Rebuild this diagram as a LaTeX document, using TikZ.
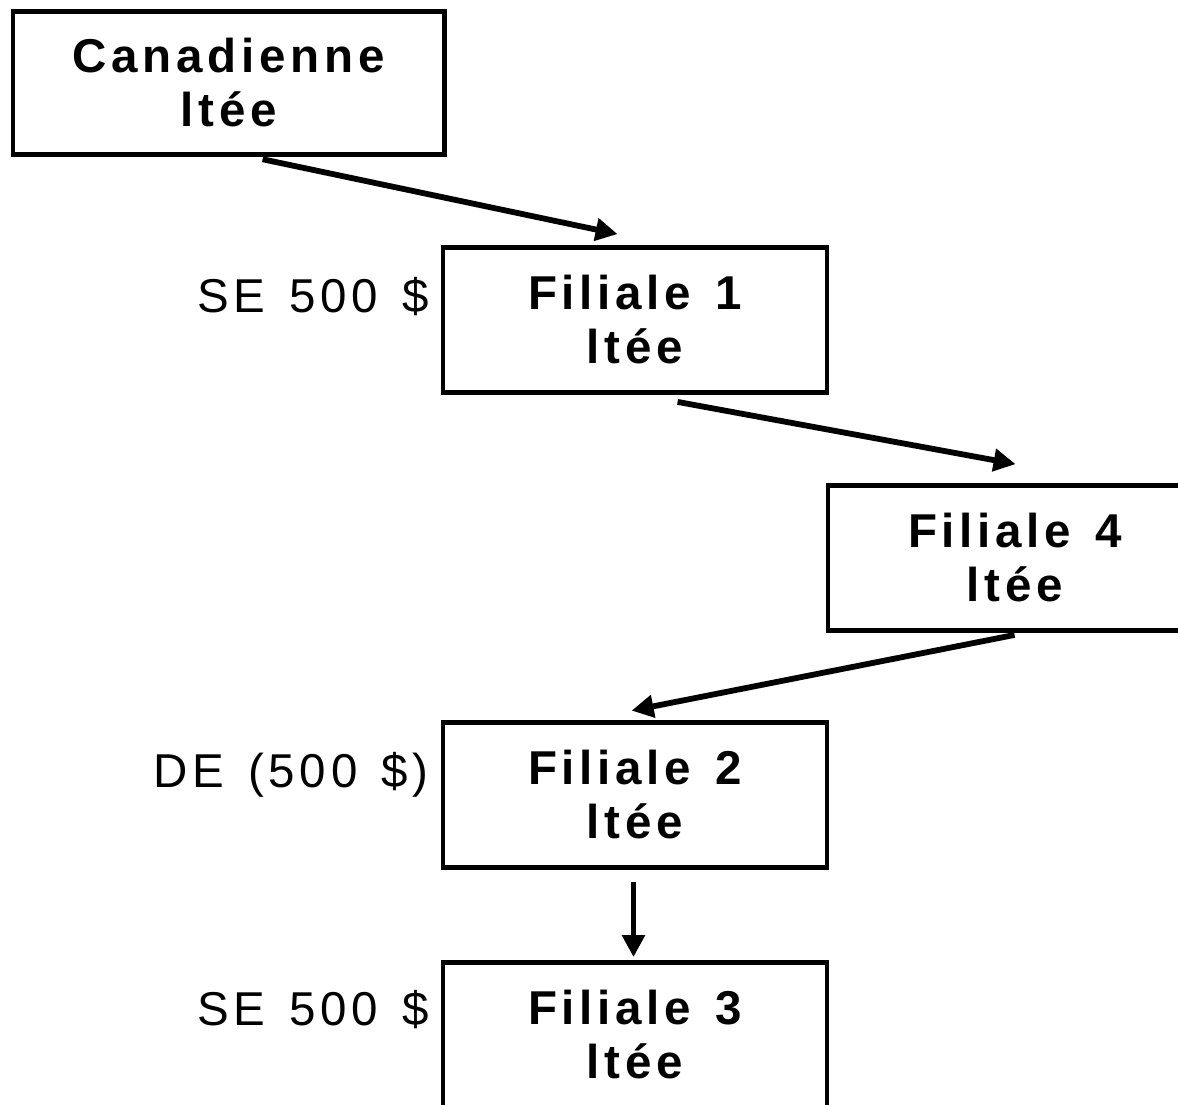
\documentclass[tikz,border=0pt]{standalone}
\usepackage{fontspec}
\usetikzlibrary{arrows.meta}
\newfontfamily\boxfont{Liberation Sans}[LetterSpace=10,WordSpace=1.35]
\tikzset{
  entity/.style={draw=black, line width=4.8pt, rectangle, inner sep=0pt,
    minimum width=384pt, minimum height=145pt, align=center,
    font=\boxfont\bfseries\fontsize{47.5pt}{54pt}\selectfont},
  lbl/.style={anchor=base east, inner sep=0pt,
    font=\boxfont\fontsize{47.5pt}{54pt}\selectfont},
  link/.style={line width=5.8pt, -{Triangle[length=22pt,width=22pt]}}
}
\begin{document}
\begin{tikzpicture}[x=1pt,y=-1pt]
\useasboundingbox (0,0) rectangle (1178,1104);
\clip (0,0) rectangle (1178,1104);
\node[entity, minimum width=431.5pt, minimum height=143.7pt] (can) at (228.75,83) {Canadienne\\ltée};
\node[entity] (f1) at (635,320) {Filiale 1\\ltée};
\node[entity, minimum width=374pt] (f4) at (1015,558) {Filiale 4\\ltée};
\node[entity] (f2) at (635,795) {Filiale 2\\ltée};
\node[entity] (f3) at (635,1035) {Filiale 3\\ltée};
\node[lbl] (l1) at (429,312) {SE 500 \$};
\node[lbl] (l2) at (429,787) {DE (500 \$)};
\node[lbl] (l3) at (429,1025) {SE 500 \$};
\draw[link] ([xshift=252pt,yshift=-2pt]can.south west) -- ([xshift=177pt,yshift=11pt]f1.north west);
\draw[link] ([xshift=237pt,yshift=-7pt]f1.south west) -- ([xshift=190pt,yshift=19pt]f4.north west);
\draw[link] ([xshift=189pt,yshift=-2pt]f4.south west) -- ([xshift=191pt,yshift=9.5pt]f2.north west);
\draw[link] ([xshift=-1.5pt,yshift=-12pt]f2.south) -- ([xshift=-1.5pt,yshift=3pt]f3.north);
\end{tikzpicture}
\end{document}
